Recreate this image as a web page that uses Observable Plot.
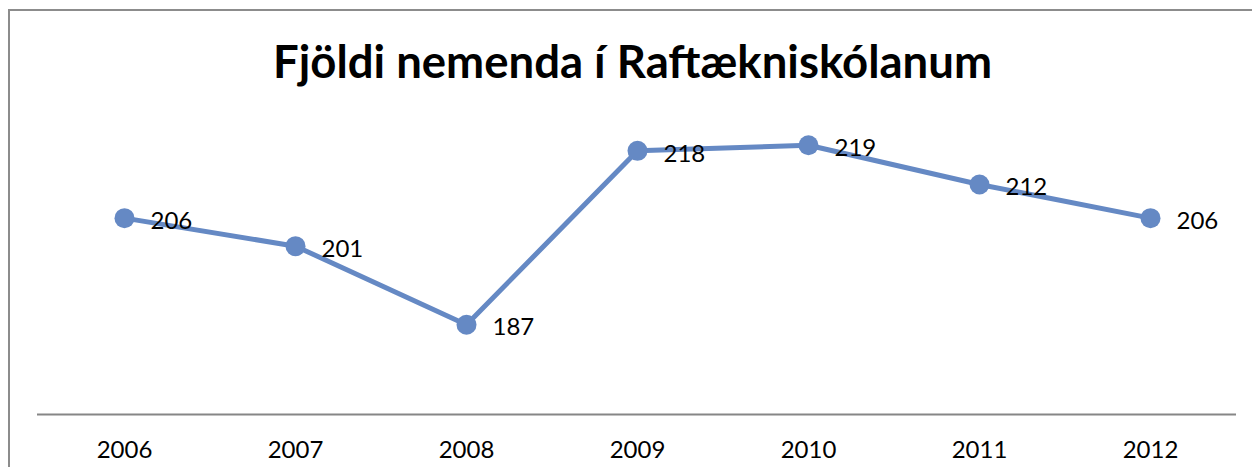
<!DOCTYPE html>
<html>
<head>
<meta charset="utf-8">
<script src="https://cdn.jsdelivr.net/npm/d3@7"></script>
<script src="https://cdn.jsdelivr.net/npm/@observablehq/plot@0.6"></script>
<style>
  html, body { margin: 0; padding: 0; background: #fff; }
  #wrap { position: relative; width: 1252px; height: 467px; overflow: hidden; font-family: Lato, "Open Sans", sans-serif; }
  #frame { position: absolute; left: 8px; top: 9px; width: 1300px; height: 500px; border-left: 2px solid #8c8c8c; border-top: 2px solid #8c8c8c; }
  #title { position: absolute; left: 0; width: 1265px; top: 33px; text-align: center; font-weight: bold; font-size: 45.5px; color: #000; }
  #chart { position: absolute; left: 0; top: 0; }
</style>
</head>
<body>
<div id="wrap">
  <div id="frame"></div>
  <div id="title">Fjöldi nemenda í Raftækniskólanum</div>
  <div id="chart"></div>
</div>
<script>
const years = ["2006", "2007", "2008", "2009", "2010", "2011", "2012"];
const students = [206, 201, 187, 218, 219, 212, 206];
const yMin = 171;
const yMax = 230;

const data = years.map((y, i) => ({year: y, value: students[i]}));

const plot = Plot.plot({
  width: 1252,
  height: 467,
  marginLeft: 37,
  marginRight: 16,
  marginTop: 83,
  marginBottom: 53,
  style: {background: "transparent", fontFamily: "Lato, 'Open Sans', sans-serif", color: "#000"},
  x: {type: "point", domain: years, padding: 0.5, label: null},
  y: {domain: [yMin, yMax], axis: null},
  marks: [
    Plot.ruleY([yMin], {stroke: "#868686", strokeWidth: 2}),
    Plot.axisX({tickSize: 0, tickPadding: 26, fontSize: 24, label: null, fill: "#000"}),
    Plot.line(data, {x: "year", y: "value", stroke: "#6589c4", strokeWidth: 5, strokeLinejoin: "round"}),
    Plot.dot(data, {x: "year", y: "value", r: 10, fill: "#6589c4", stroke: "none"}),
    Plot.text(data, {x: "year", y: "value", text: d => String(d.value), dx: 26, dy: 3, textAnchor: "start", fontSize: 24, fill: "#000"})
  ]
});
document.getElementById("chart").appendChild(plot);
</script>
</body>
</html>
